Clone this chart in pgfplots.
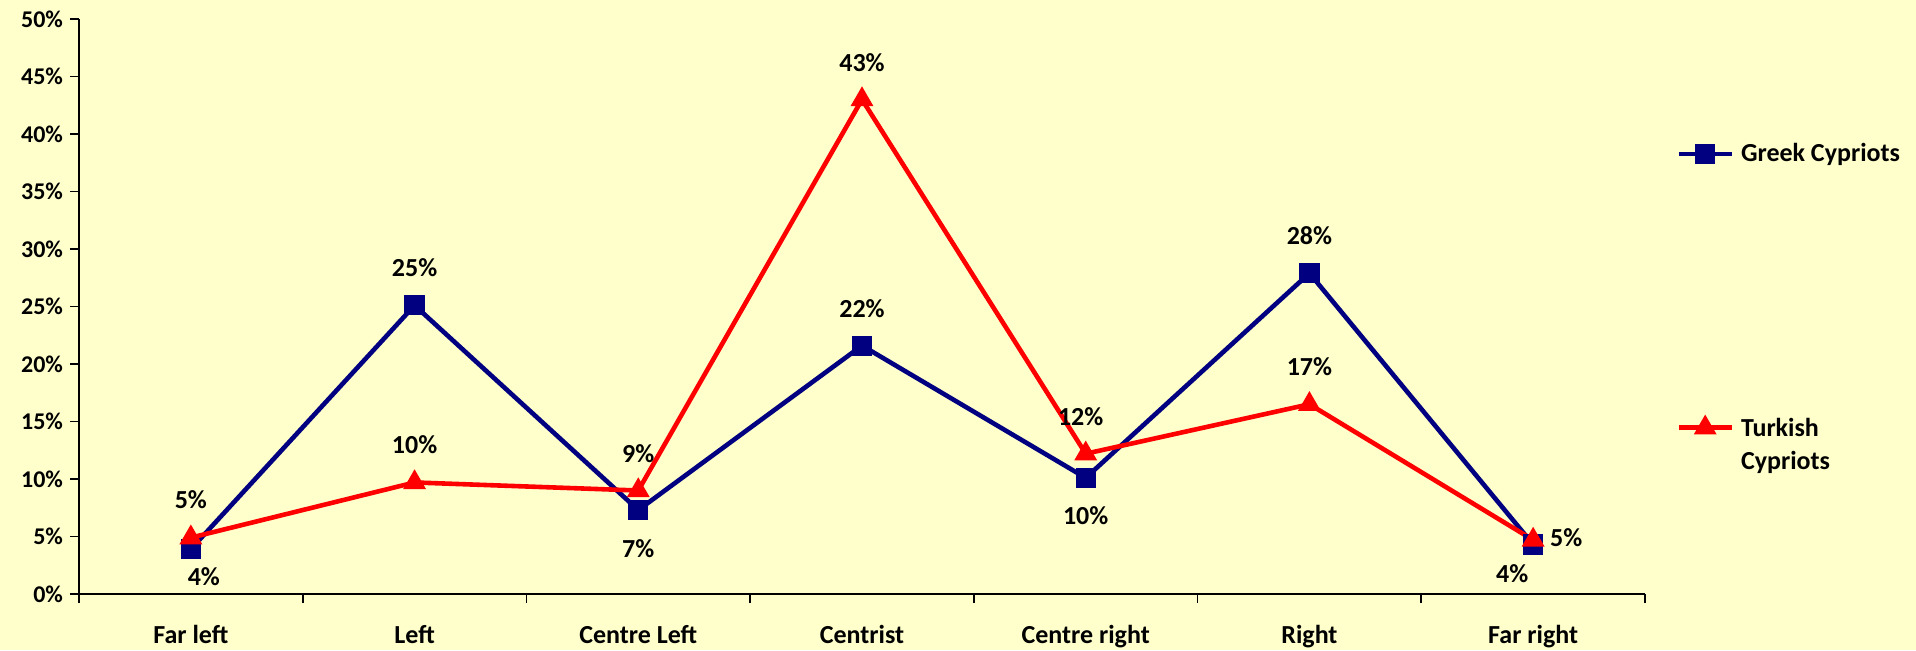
\documentclass[border=0pt]{standalone}
\usepackage{pgfplots}
\usepackage{pgfplotstable}
\pgfplotsset{compat=1.18}
\usepackage{fontspec}
\setmainfont{Carlito}

\definecolor{bgyellow}{HTML}{FFFFCC}
\definecolor{greekblue}{HTML}{000080}
\definecolor{turkred}{HTML}{FF0000}

% legend image lifted to the first line of a two-line entry
\pgfplotsset{
    raised legend image/.style={
        legend image code/.code={
            \draw[mark repeat=2, mark phase=2, ##1] plot coordinates {(0pt,9pt) (13.25pt,9pt) (26.5pt,9pt)};
        }
    }
}

% x = category index, lab = printed label, dx/dy = label offset (pt)
\pgfplotstableread{
x y    lab dx    dy
0 3.9  4   6.5   -13.5
1 25.1 25  0     19
2 7.3  7   0     -19.5
3 21.6 22  0     18.5
4 10.1 10  0     -19
5 27.9 28  0     19
6 4.3  4   -10.5 -14.5
}\greek

\pgfplotstableread{
x y    lab dx    dy
0 4.9  5   0     19
1 9.7  10  0     19
2 9.0  9   0     18.5
3 43.0 43  0     18.5
4 12.2 12  -2.5  18.5
5 16.5 17  0     19
6 4.7  5   16.5  1
}\turkish

\begin{document}
\begin{tikzpicture}
\fill[bgyellow] (-39.5pt,-28pt) rectangle (918.5pt,297pt);
\useasboundingbox (-39.5pt,-28pt) rectangle (918.5pt,297pt);
\begin{axis}[
    at={(0,0)}, anchor=south west,
    scale only axis, width=783pt, height=287.5pt,
    xmin=-0.5, xmax=6.5, ymin=0, ymax=50,
    clip=false,
    axis x line*=bottom, axis y line*=left,
    axis line style={line width=0.8pt, black},
    tick align=outside,
    major tick length=4.5pt,
    tick style={line width=0.8pt, black},
    xtick={-0.5,0.5,...,6.5},
    xticklabels={},
    extra x ticks={0,1,2,3,4,5,6},
    extra x tick labels={Far left,Left,Centre Left,Centrist,Centre right,Right,Far right},
    extra x tick style={major tick length=0pt,
        xticklabel style={anchor=base, yshift=-24.5pt,
            font=\fontsize{13}{16}\selectfont\bfseries}},
    ytick={0,5,...,50},
    /pgf/number format/assume math mode=true,
    yticklabel={\pgfmathprintnumber{\tick}\%},
    yticklabel style={font=\fontsize{12}{14}\selectfont\bfseries, anchor=east},
    point meta=explicit symbolic,
    nodes near coords={\pgfplotspointmeta\%},
    visualization depends on={\thisrow{dx} \as \dx},
    visualization depends on={\thisrow{dy} \as \dy},
    every node near coord/.append style={anchor=center, xshift=\dx pt, yshift=\dy pt,
        font=\fontsize{13}{16}\selectfont\bfseries, black},
    legend style={at={(rel axis cs:1,1)}, anchor=north west, xshift=15.5pt, yshift=-62pt,
        draw=none, fill=none, inner sep=0pt, row sep=127pt, column sep=3.5pt,
        font=\fontsize{13}{16.5}\selectfont\bfseries,
        nodes={inner sep=0pt, align=left}},
    legend cell align=left,
    legend image code/.code={
        \draw[mark repeat=2, mark phase=2, #1] plot coordinates {(0pt,0pt) (13.25pt,0pt) (26.5pt,0pt)};
    },
]
\addplot[greekblue, line width=2.3pt, mark=square*, mark size=3.9pt,
    mark options={draw=none, fill=greekblue}]
    table[x=x, y=y, meta=lab] {\greek};
\addlegendentry{Greek Cypriots}
\addplot[turkred, line width=2.3pt, mark=triangle*, mark size=4.3pt,
    mark options={draw=none, fill=turkred}, raised legend image]
    table[x=x, y=y, meta=lab] {\turkish};
\addlegendentry{Turkish\\Cypriots}
\end{axis}
\end{tikzpicture}
\end{document}
